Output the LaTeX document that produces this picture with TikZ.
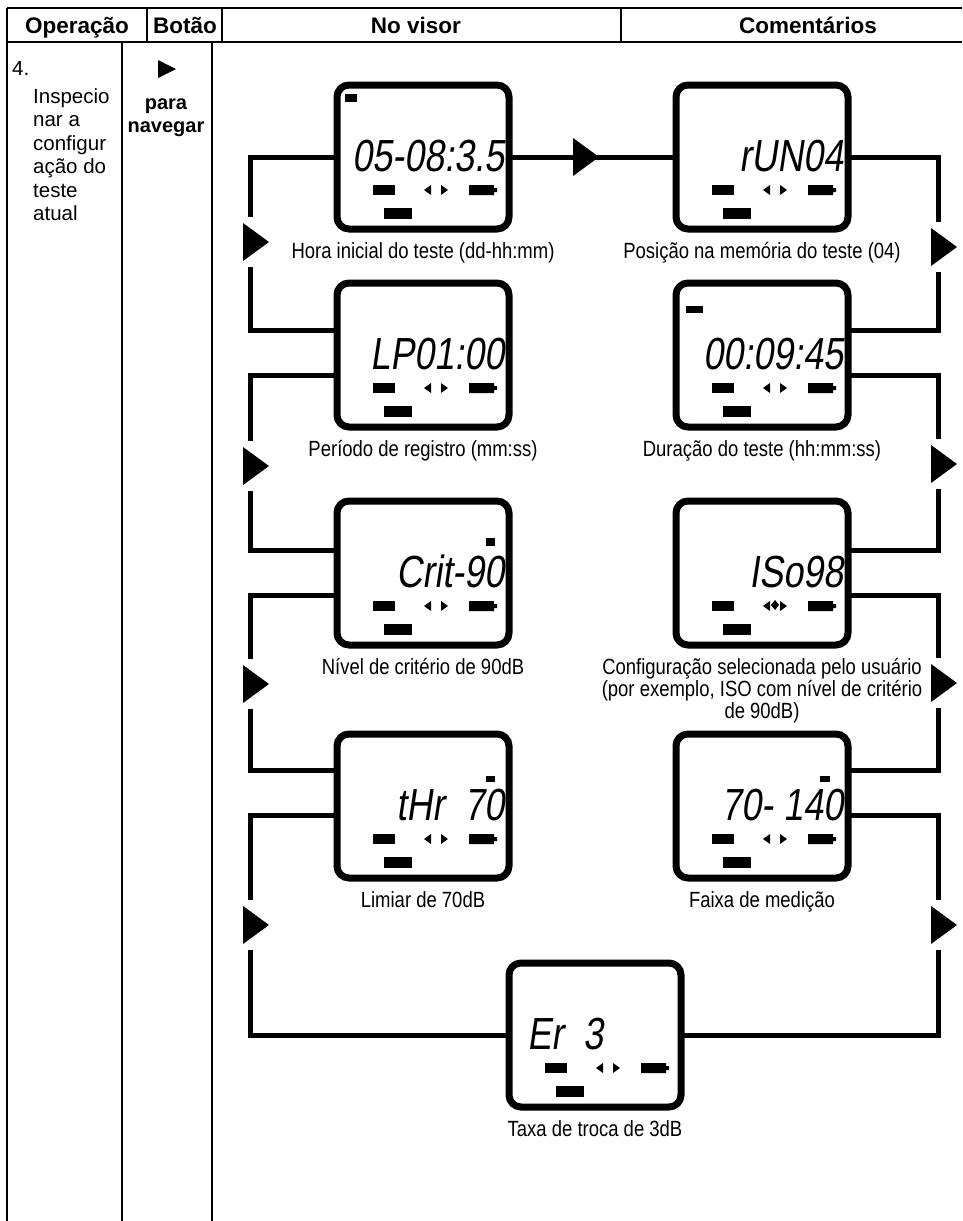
\documentclass[tikz,border=0pt]{standalone}
\usepackage{fontspec}
\setmainfont{Liberation Sans}
\newfontfamily\lcdfont[FakeSlant=0.15,FakeStretch=0.8]{Liberation Sans}
\newfontfamily\narrowfont[FakeStretch=0.84]{Liberation Sans}
\usetikzlibrary{positioning}
\tikzset{
  lcdbox/.style={draw,line width=7pt,rounded corners=12pt,minimum width=172pt,minimum height=144pt,inner sep=0pt,outer sep=0pt},
  wire/.style={line width=5pt},
  grid/.style={line width=1.5pt},
  head/.style={font=\bfseries\fontsize{22.5}{23}\selectfont,inner sep=0pt,anchor=base},
  body/.style={font=\fontsize{20.5}{23.4}\selectfont,inner sep=0pt},
  legend/.style={font=\narrowfont\fontsize{22}{22}\selectfont,inner sep=0pt,text height=16pt,text depth=5pt},
  legendml/.style={font=\narrowfont\fontsize{22}{22}\selectfont,inner sep=0pt,align=center},
  lcd/.style={font=\lcdfont\fontsize{45}{45}\selectfont,inner sep=0pt,anchor=base east},
  navtri/.pic={\fill (-7,-19) -- (19,0) -- (-7,19) -- cycle;}
}
\begin{document}
\begin{tikzpicture}[x=1pt,y=-1pt]
\useasboundingbox (0,0) rectangle (962,1221);
% table frame
\draw[grid] (7,8) -- (962,8) (7,42) -- (962,42);
\draw[grid] (7,8) -- (7,1221) (147,8) -- (147,42) (222,8) -- (222,42) (621,8) -- (621,42);
\draw[grid] (122,42) -- (122,1221) (212,42) -- (212,1221);
\node[head] (hOp) at (77,33) {Operação};
\node[head] (hBt) at (185,33) {Botão};
\node[head] (hVis) at (416,33) {No visor};
\node[head] (hCom) at (808,33) {Comentários};
% first row, left cells
\node[body,anchor=base west] (num) at (12,75) {4.};
\node[body,anchor=north west,align=left] (op) at (33,88.5) {Inspecio\\nar a\\configur\\ação do\\teste\\atual};
\fill (158,60) -- (176,69) -- (158,78) -- cycle;
\node[body,font=\bfseries\fontsize{20}{22.6}\selectfont,anchor=north,align=center] (btn) at (166,99) {para\\navegar};
% displays
\node[lcdbox] (hora) at (423,157) {};
\node[lcdbox] (run) at (762,157) {};
\node[lcdbox] (lp) at (423,355) {};
\node[lcdbox] (dur) at (762,355) {};
\node[lcdbox] (crit) at (423,573) {};
\node[lcdbox] (iso) at (762,573) {};
\node[lcdbox] (thr) at (423,806) {};
\node[lcdbox] (faixa) at (762,806) {};
\node[lcdbox] (er) at (595,1035) {};
\foreach \b in {hora,run,lp,dur,crit,iso,thr,faixa,er}{
  \begin{scope}[shift={(\b.north west)}]
    \fill (36,100) rectangle (58,110);
    \fill (87,105) -- (94,100) -- (94,110) -- cycle;
    \fill (111,105) -- (104,100) -- (104,110) -- cycle;
    \fill (132,100) rectangle (157,110) (157,103) rectangle (160,107);
    \fill (47,123) rectangle (75,134);
  \end{scope}
}
\fill ([xshift=8pt,yshift=-9pt]hora.north west) rectangle ([xshift=20pt,yshift=-17pt]hora.north west);
\fill ([xshift=10pt,yshift=-23pt]dur.north west) rectangle ([xshift=27pt,yshift=-30pt]dur.north west);
\fill ([xshift=-23pt,yshift=-37pt]crit.north east) rectangle ([xshift=-14pt,yshift=-45pt]crit.north east);
\fill ([xshift=-23pt,yshift=-42pt]thr.north east) rectangle ([xshift=-14pt,yshift=-48pt]thr.north east);
\fill ([xshift=-28pt,yshift=-42pt]faixa.north east) rectangle ([xshift=-18pt,yshift=-48pt]faixa.north east);
\fill ([xshift=99pt,yshift=-99pt]iso.north west) -- ([xshift=103pt,yshift=-104pt]iso.north west) -- ([xshift=99pt,yshift=-109pt]iso.north west) -- ([xshift=95pt,yshift=-104pt]iso.north west) -- cycle;
\foreach \b/\t in {hora/05-08:3.5,run/rUN04,lp/LP01:00,dur/00:09:45,crit/Crit-90,iso/ISo98,thr/tHr~~70,faixa/70-~140}
  \node[lcd] (\b-d) at ([xshift=-4pt,yshift=-86pt]\b.north east) {\t};
\node[lcd,anchor=base west] (er-d) at ([xshift=18pt,yshift=-86pt]er.north west) {Er~~3};
% captions
\node[legend,below=13pt of hora] (c1) {Hora inicial do teste (dd-hh:mm)};
\node[legend,below=13pt of run] (c2) {Posição na memória do teste (04)};
\node[legend,below=13pt of lp] (c3) {Período de registro (mm:ss)};
\node[legend,below=13pt of dur] (c4) {Duração do teste (hh:mm:ss)};
\node[legend,below=13pt of crit] (c5) {Nível de critério de 90dB};
\node[legendml,below=13pt of iso] (c6) {Configuração selecionada pelo usuário\\(por exemplo, ISO com nível de critério\\de 90dB)};
\node[legend,below=13pt of thr] (c7) {Limiar de 70dB};
\node[legend,below=13pt of faixa] (c8) {Faixa de medição};
\node[legend,below=13pt of er] (c9) {Taxa de troca de 3dB};
% navigation marks
\coordinate (tM) at (580,157);
\coordinate (tL1) at (250,242);
\coordinate (tL2) at (250,466);
\coordinate (tL3) at (250,684);
\coordinate (tL4) at (250,925);
\coordinate (tR1) at (938,247);
\coordinate (tR2) at (938,464);
\coordinate (tR3) at (938,683);
\coordinate (tR4) at (938,925);
\foreach \t in {tM,tL1,tL2,tL3,tL4,tR1,tR2,tR3,tR4}
  \pic at (\t) {navtri};
% loop wiring
\draw[wire] (hora.east) -- (tM);
\draw[wire] (tM) -- (run.west);
\draw[wire] (hora.west) -| ([yshift=25pt]tL1);
\draw[wire] ([yshift=-25pt]tL1) |- ([yshift=25pt]lp.west);
\draw[wire] ([yshift=-20pt]lp.west) -| ([yshift=25pt]tL2);
\draw[wire] ([yshift=-25pt]tL2) |- ([yshift=23pt]crit.west);
\draw[wire] ([yshift=-22pt]crit.west) -| ([yshift=25pt]tL3);
\draw[wire] ([yshift=-25pt]tL3) |- ([yshift=36pt]thr.west);
\draw[wire] ([yshift=-9pt]thr.west) -| ([yshift=25pt]tL4);
\draw[wire] ([yshift=-25pt]tL4) |- (er.west);
\draw[wire] (run.east) -| ([yshift=25pt]tR1);
\draw[wire] ([yshift=-25pt]tR1) |- ([yshift=25pt]dur.east);
\draw[wire] ([yshift=-20pt]dur.east) -| ([yshift=25pt]tR2);
\draw[wire] ([yshift=-25pt]tR2) |- ([yshift=23pt]iso.east);
\draw[wire] ([yshift=-22pt]iso.east) -| ([yshift=25pt]tR3);
\draw[wire] ([yshift=-25pt]tR3) |- ([yshift=36pt]faixa.east);
\draw[wire] ([yshift=-9pt]faixa.east) -| ([yshift=25pt]tR4);
\draw[wire] ([yshift=-25pt]tR4) |- (er.east);
\end{tikzpicture}
\end{document}
